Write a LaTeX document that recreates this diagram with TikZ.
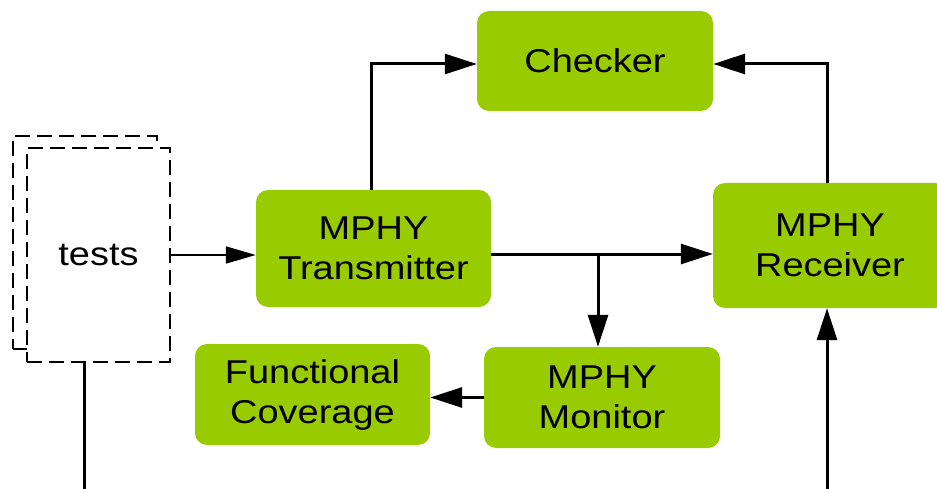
\documentclass[tikz,border=0pt]{standalone}
\usepackage{fontspec}
\setmainfont{Liberation Sans}[FakeStretch=1.15]
\usetikzlibrary{arrows.meta}
\definecolor{blockgreen}{RGB}{153,204,0}
\tikzset{
  block/.style={rectangle, rounded corners=12pt, fill=blockgreen, draw=none,
    align=center, inner sep=0pt, font=\fontsize{33}{40}\selectfont},
  testbox/.style={rectangle, draw=black, line width=2.6pt, fill=white,
    dash pattern=on 15pt off 7pt, inner sep=0pt},
  flow/.style={line width=3pt, -{Triangle[length=32pt,width=20pt]}},
  thinflow/.style={line width=1.8pt, -{Triangle[length=30pt,width=17pt]}},
  wire/.style={line width=3pt}
}
\begin{document}
\begin{tikzpicture}[x=1pt,y=-1pt]
  \useasboundingbox (0,0) rectangle (937,489);
  \clip (0,0) rectangle (937,489);

  % stacked test files
  \node[testbox, minimum width=144pt, minimum height=213pt] (testsback) at (85,242.5) {};
  \node[testbox, minimum width=143pt, minimum height=214pt,
        font=\fontsize{33}{40}\selectfont] (tests) at (98.5,255) {tests};

  % blocks
  \node[block, minimum width=236pt, minimum height=100pt] (chk) at (595,61) {Checker};
  \node[block, minimum width=235pt, minimum height=117pt] (tx) at (373.5,248.5) {MPHY\\Transmitter};
  \node[block, minimum width=234pt, minimum height=125pt] (rx) at (830,245.5) {MPHY\\Receiver};
  \node[block, minimum width=236pt, minimum height=101pt] (mon) at (602,397.5) {MPHY\\Monitor};
  \node[block, minimum width=235pt, minimum height=101pt] (fc) at (312.5,394.5) {Functional\\Coverage};

  % connectors
  \draw[thinflow] (tests.east) -- (tests.east -| tx.west);
  \draw[flow] ([yshift=-5.5pt]tx.east) -- ([yshift=-5.5pt]tx.east -| rx.west);
  \coordinate (split) at (598,254);
  \draw[flow] (split) -- (split |- mon.north);
  \draw[flow] ([xshift=-2.5pt]tx.north) |- ([yshift=-3pt]chk.west);
  \draw[flow] ([xshift=-3pt]rx.north) |- ([yshift=-3pt]chk.east);
  \draw[flow] (mon.west) -- (mon.west -| fc.east);
  \coordinate (rxfeed) at (827,489);
  \draw[flow] (rxfeed) -- (rxfeed |- rx.south);
  \coordinate (testsout) at (84,489);
  \draw[wire] (testsout |- tests.south) -- (testsout);
\end{tikzpicture}
\end{document}
